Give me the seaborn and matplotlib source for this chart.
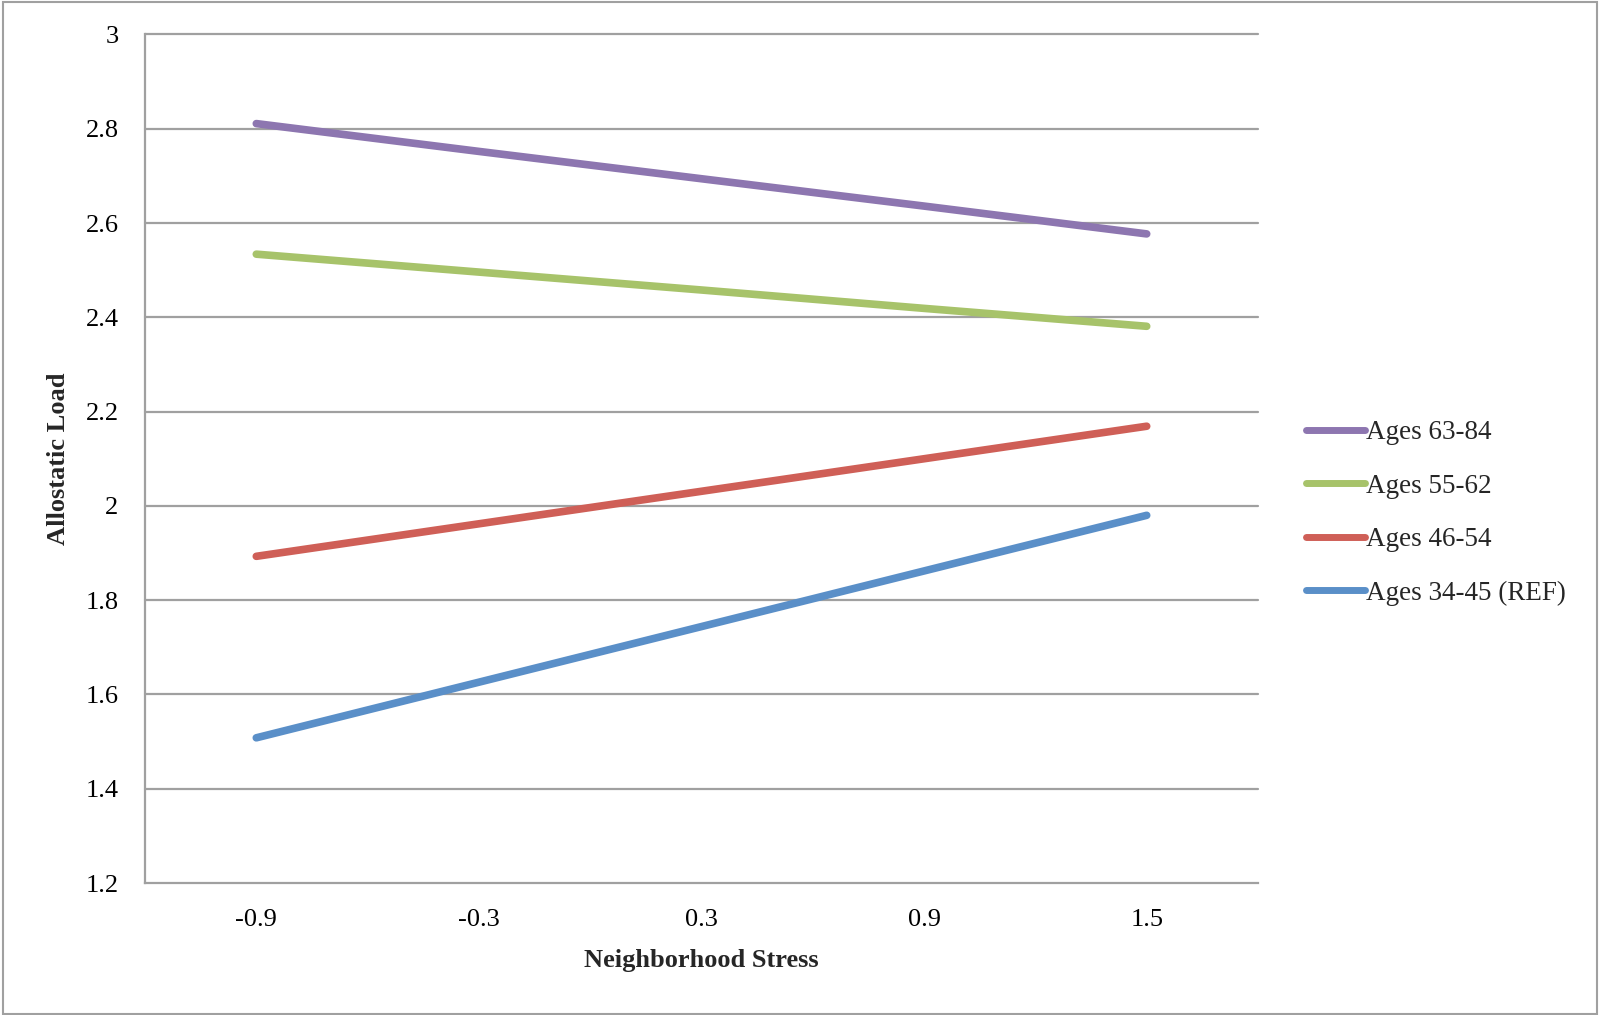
import matplotlib
matplotlib.use("Agg")
import matplotlib.pyplot as plt
import seaborn as sns
import pandas as pd
from matplotlib.patches import Rectangle

# Neighborhood stress levels (x) and predicted allostatic load per age group
stress = [-0.9, -0.3, 0.3, 0.9, 1.5]
ages_63_84 = [2.811, 2.752, 2.694, 2.636, 2.577]
ages_55_62 = [2.534, 2.496, 2.458, 2.419, 2.381]
ages_46_54 = [1.893, 1.962, 2.031, 2.100, 2.169]
ages_34_45 = [1.508, 1.626, 1.744, 1.862, 1.980]

groups = ["Ages 63-84", "Ages 55-62", "Ages 46-54", "Ages 34-45 (REF)"]
series = [ages_63_84, ages_55_62, ages_46_54, ages_34_45]
colors = ["#8D76B0", "#A7C36A", "#CF5F57", "#5A8FC8"]

y_ticks = [1.2, 1.4, 1.6, 1.8, 2.0, 2.2, 2.4, 2.6, 2.8, 3.0]
y_tick_labels = ["1.2", "1.4", "1.6", "1.8", "2", "2.2", "2.4", "2.6", "2.8", "3"]
x_tick_labels = ["-0.9", "-0.3", "0.3", "0.9", "1.5"]

df = pd.DataFrame(
    [(x, y, g) for g, vals in zip(groups, series) for x, y in zip(stress, vals)],
    columns=["stress", "load", "group"],
)

sns.set_theme(style="white")
plt.rcParams["font.family"] = ["Liberation Serif", "DejaVu Serif"]

fig = plt.figure(figsize=(16, 10.15), dpi=100)
ax = fig.add_axes([145 / 1600, 1 - 883 / 1015, (1258 - 145) / 1600, (883 - 34.5) / 1015])

grid_c = "#A0A0A0"
for yv in y_ticks[1:]:
    ax.axhline(yv, color=grid_c, lw=1.6, zorder=1, clip_on=False)

sns.lineplot(
    data=df, x="stress", y="load", hue="group", hue_order=groups,
    palette=colors, linewidth=5.5, ax=ax, legend=False, zorder=3,
    solid_capstyle="round",
)

ax.set_xlim(-1.2, 1.8)
ax.set_ylim(1.2, 3.0)
ax.set_xticks(stress)
ax.set_xticklabels(x_tick_labels)
ax.set_yticks(y_ticks)
ax.set_yticklabels(y_tick_labels)
ax.tick_params(axis="both", length=0, labelsize=19, labelcolor="black")
ax.tick_params(axis="y", pad=19)
ax.tick_params(axis="x", pad=19)

for side in ["top", "right"]:
    ax.spines[side].set_visible(False)
for side in ["left", "bottom"]:
    ax.spines[side].set_color(grid_c)
    ax.spines[side].set_linewidth(1.6)

ax.set_xlabel("Neighborhood Stress", fontsize=19, fontweight="bold", labelpad=13)
ax.set_ylabel("Allostatic Load", fontsize=19, fontweight="bold", labelpad=11)

handles = [
    plt.Line2D([], [], color=c, lw=5, solid_capstyle="round") for c in colors
]
fig.legend(
    handles, groups, loc="center left", bbox_to_anchor=(1282 / 1600, 1 - 513 / 1015),
    frameon=False, fontsize=19.5, handlelength=2.15, handletextpad=0.05,
    labelspacing=1.05,
)

# Thin grey frame around the whole chart area
fig.add_artist(Rectangle((3 / 1600, 1 / 1015), 1594 / 1600, 1012 / 1015,
                         transform=fig.transFigure, fill=False,
                         edgecolor=grid_c, lw=1.5))

fig.savefig("out.png", dpi=100)
